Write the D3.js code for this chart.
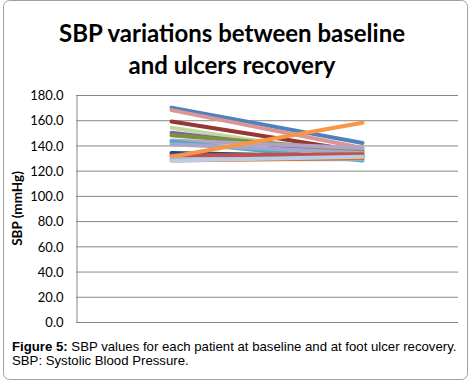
<!DOCTYPE html>
<html>
<head>
<meta charset="utf-8">
<script src="https://cdn.jsdelivr.net/npm/d3@7"></script>
<style>
  body { margin: 0; background: #fff; }
  svg { display: block; }
</style>
</head>
<body>
<div id="chart"></div>
<script>
// two time points, no visible labels in the original
const stages = ["Baseline", "Recovery"];
const baseline = [170, 168, 159, 154, 150, 148, 144, 143, 141, 134, 132, 131, 129, 128, 128];
const recovery = [142, 138, 135, 131, 132, 136, 138, 128, 134, 131, 133, 158, 129, 130, 131];
const colors = ["#4f81bd", "#d99694", "#953735", "#c3d69b", "#8064a2", "#77933c", "#b3a2c7", "#4bacc6",
                "#a6a6c8", "#1f497d", "#c0504d", "#f79646", "#95b3d7", "#e46c0a", "#b9cde5"];
const yTicks = [0, 20, 40, 60, 80, 100, 120, 140, 160, 180];

const W = 470, H = 385;
const plot = {left: 76, right: 458, top: 95, bottom: 322};

const svg = d3.select("#chart").append("svg")
  .attr("width", W)
  .attr("height", H);

// outer frame
svg.append("rect")
  .attr("x", 3.5).attr("y", 0.5)
  .attr("width", 464).attr("height", 379)
  .attr("rx", 6)
  .attr("fill", "#fff")
  .attr("stroke", "#a0a0a0");

svg.append("text")
  .attr("x", 232).attr("y", 42)
  .attr("text-anchor", "middle")
  .style("font-family", "Lato, 'Open Sans', sans-serif")
  .style("font-weight", 700)
  .style("font-size", "24px")
  .text("SBP variations between baseline");
svg.append("text")
  .attr("x", 232).attr("y", 74)
  .attr("text-anchor", "middle")
  .style("font-family", "Lato, 'Open Sans', sans-serif")
  .style("font-weight", 700)
  .style("font-size", "24px")
  .text("and ulcers recovery");

var x = d3.scaleBand()
  .domain(stages)
  .range([plot.left, plot.right]);

var y = d3.scaleLinear()
  .domain([0, 180])
  .range([plot.bottom, plot.top]);

// gridlines
svg.append("g")
  .selectAll("line")
  .data(yTicks)
  .enter()
  .append("line")
  .attr("x1", plot.left).attr("x2", plot.right)
  .attr("y1", d => y(d) + 0.5).attr("y2", d => y(d) + 0.5)
  .attr("stroke", "#878787")
  .attr("stroke-width", 1);

var yAxis = svg.append("g")
  .attr("transform", "translate(" + (plot.left + 0.5) + ",0.5)")
  .call(d3.axisLeft(y).tickValues(yTicks).tickFormat(d3.format(".1f")).tickSize(0).tickPadding(13));
yAxis.select(".domain").attr("stroke", "#878787");
yAxis.selectAll("text")
  .style("font-family", "Lato, 'Open Sans', sans-serif")
  .style("font-size", "13px")
  .attr("fill", "#000");

svg.append("text")
  .attr("transform", "translate(22," + ((plot.top + plot.bottom) / 2) + ") rotate(-90)")
  .attr("text-anchor", "middle")
  .style("font-family", "Lato, 'Open Sans', sans-serif")
  .style("font-weight", 700)
  .style("font-size", "13.5px")
  .text("SBP (mmHg)");

var line = d3.line()
  .x(d => x(d.stage) + x.bandwidth() / 2)
  .y(d => y(d.value));

var series = baseline.map((b, i) => ({
  color: colors[i],
  points: [{stage: stages[0], value: b}, {stage: stages[1], value: recovery[i]}]
}));

svg.append("g")
  .selectAll("path")
  .data(series)
  .enter()
  .append("path")
  .attr("d", d => line(d.points))
  .attr("fill", "none")
  .attr("stroke", d => d.color)
  .attr("stroke-width", 4)
  .attr("stroke-linecap", "round");

// caption
var cap = svg.append("text")
  .attr("x", 12).attr("y", 351)
  .style("font-family", "'Liberation Sans', Arial, sans-serif")
  .style("font-size", "13.2px");
cap.append("tspan").style("font-weight", 700).text("Figure 5:");
cap.append("tspan").text(" SBP values for each patient at baseline and at foot ulcer recovery.");
svg.append("text")
  .attr("x", 12).attr("y", 365)
  .style("font-family", "'Liberation Sans', Arial, sans-serif")
  .style("font-size", "13.2px")
  .text("SBP: Systolic Blood Pressure.");
</script>
</body>
</html>
